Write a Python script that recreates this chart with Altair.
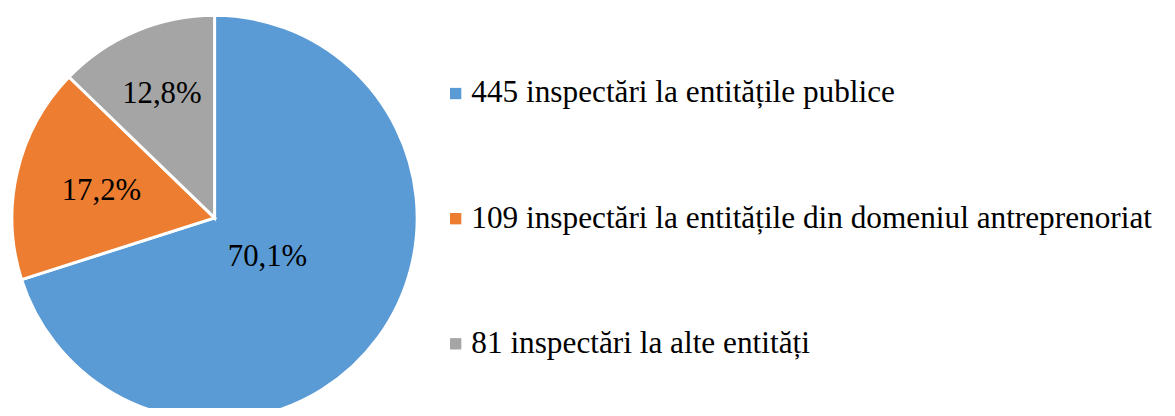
import altair as alt
import pandas as pd

categories = [
    "445 inspectări la entitățile publice",
    "109 inspectări la entitățile din domeniul antreprenoriat",
    "81 inspectări la alte entități",
]
values = [445, 109, 81]
labels = ["70,1%", "17,2%", "12,8%"]
order = [1, 2, 3]
colors = ["#5B9BD5", "#ED7D31", "#A5A5A5"]

df = pd.DataFrame({"cat": categories, "value": values, "label": labels, "order": order})

FONT = "Times New Roman"
cx, cy = 208, 210
label_radius = [66, 117, 136]  # style: distance of each label from the centre

color = alt.Color(
    "cat:N",
    scale=alt.Scale(domain=categories, range=colors),
    sort=categories,
    legend=alt.Legend(
        title=None,
        orient="none",
        legendX=435,
        legendY=69,
        symbolType="square",
        symbolSize=130,
        symbolStrokeWidth=0,
        labelFont=FONT,
        labelFontSize=31.5,
        labelColor="#000000",
        labelLimit=1000,
        labelOffset=0,
        rowPadding=93,
    ),
)

arcs = alt.Chart(df).mark_arc(radius=204, stroke="white", strokeWidth=3).encode(
    theta=alt.Theta("value:Q", stack=True),
    order=alt.Order("order:Q"),
    color=color,
    x=alt.value(cx),
    y=alt.value(cy),
)

layers = [arcs]
for i, r in enumerate(label_radius):
    t = (
        alt.Chart(df)
        .transform_window(cum="sum(value)", sort=[alt.SortField("order")])
        .transform_calculate(mid="datum.cum - datum.value / 2")
        .transform_filter(alt.datum.order == i + 1)
        .mark_text(font=FONT, fontSize=31, color="#000000", radius=r)
        .encode(
            theta=alt.Theta("mid:Q", stack=None),
            text="label:N",
            x=alt.value(cx),
            y=alt.value(cy),
        )
    )
    layers.append(t)

chart = (
    alt.layer(*layers)
    .properties(width=1167, height=400, padding=0, autosize="none")
    .configure_view(stroke=None)
)

chart.save("out.html", embed_options={"renderer": "svg", "actions": False})
